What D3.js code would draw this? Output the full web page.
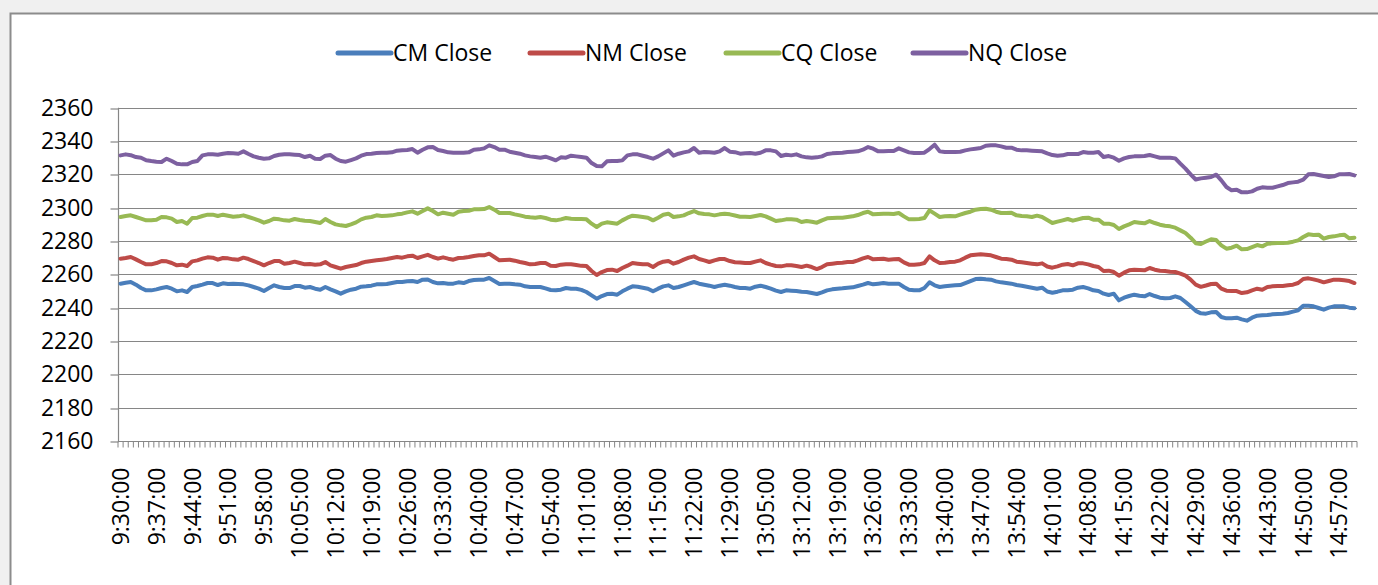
<!DOCTYPE html>
<html lang="en">
<head>
<meta charset="UTF-8">
<title>CM / NM / CQ / NQ Close</title>
<script src="https://cdn.jsdelivr.net/npm/d3@7/dist/d3.min.js"></script>
<style>
  * { margin: 0; padding: 0; }
  body { background: #f0f0f0; overflow: hidden; }
  svg { display: block; font-family: 'Open Sans', 'Liberation Sans', sans-serif; }
</style>
</head>
<body>
<svg id="chart" width="1378" height="585"></svg>
<script>
// ---------------------------------------------------------------------------
// Data (one value per minute)
// ---------------------------------------------------------------------------

// trading sessions, one category per minute
const sessions = [['9:30', '11:30'], ['13:00', '15:00']];

// labels shown on the x axis (every 7th minute)
const tickLabels = ['9:30:00','9:37:00','9:44:00','9:51:00','9:58:00','10:05:00','10:12:00','10:19:00',
  '10:26:00','10:33:00','10:40:00','10:47:00','10:54:00','11:01:00','11:08:00','11:15:00','11:22:00',
  '11:29:00','13:05:00','13:12:00','13:19:00','13:26:00','13:33:00','13:40:00','13:47:00','13:54:00',
  '14:01:00','14:08:00','14:15:00','14:22:00','14:29:00','14:36:00','14:43:00','14:50:00','14:57:00'];

const yTicks = [2160, 2180, 2200, 2220, 2240, 2260, 2280, 2300, 2320, 2340, 2360];

const cmClose = [
  2254.4, 2255, 2255.4, 2253.8, 2251.8, 2250.4, 2250.4, 2251, 2251.8, 2252.4, 2251.4, 2249.8, 2250.4, 2249.4, 2252.4, 2253, 2253.8, 2254.8, 2254.8, 2253.6, 2254.6, 2254.2, 2254.4, 2254.2, 2254, 2253.4, 2252.4, 2251.4, 2250, 2251.8, 2253.4,
  2252.4, 2251.8, 2251.8, 2253, 2253, 2252, 2252.4, 2251.4, 2250.8, 2252.4, 2251, 2249.8, 2248.4, 2249.8, 2250.8, 2251.4, 2252.6, 2252.8, 2253.2, 2254, 2254, 2254.2, 2254.8, 2255.4, 2255.4, 2255.8, 2256, 2255.4, 2256.8, 2256.9,
  2255.4, 2254.6, 2254.8, 2254.4, 2254.4, 2255.2, 2254.8, 2256, 2256.6, 2256.8, 2256.8, 2257.8, 2256, 2254.2, 2254.4, 2254.4, 2254, 2253.8, 2252.8, 2252.4, 2252.4, 2252.4, 2251.6, 2250.6, 2250.4, 2250.8, 2251.8, 2251.4, 2251.4, 2250.7,
  2249.4, 2247.4, 2245.4, 2247, 2248.2, 2248.4, 2247.8, 2249.8, 2251.4, 2252.8, 2252.6, 2252, 2251.4, 2249.8, 2251.4, 2252.8, 2253.4, 2251.8, 2252.4, 2253.4, 2254.4, 2255.4, 2254.4, 2253.8, 2253.2, 2252.4, 2253.2, 2253.8, 2253.2, 2252.4, 2251.8,
  2251.8, 2251.4, 2252.6, 2253.2, 2252.4, 2251.4, 2250.2, 2249.4, 2250.4, 2250.2, 2250, 2249.6, 2249.4, 2248.8, 2248.2, 2249.2, 2250.4, 2251, 2251.4, 2251.6, 2252, 2252.2, 2253, 2253.8, 2254.8, 2254, 2254.4, 2254.8, 2254.4, 2254.4,
  2254.4, 2252.4, 2250.8, 2250.4, 2250.4, 2251.8, 2255.2, 2253.4, 2252.4, 2252.8, 2253.2, 2253.4, 2253.6, 2254.8, 2256, 2257.2, 2257.4, 2257, 2256.8, 2255.8, 2255.2, 2254.8, 2254.4, 2253.6, 2253.2, 2252.6, 2252, 2251.4, 2252, 2249.7,
  2249, 2249.6, 2250.4, 2250.4, 2250.8, 2252, 2252.4, 2251.6, 2250.4, 2250, 2248.4, 2247.6, 2248.4, 2244.4, 2246, 2247, 2247.8, 2247.2, 2246.8, 2248.2, 2247, 2246, 2245.6, 2245.8, 2246.8, 2245.8, 2243.4, 2240.8, 2238.1, 2236.6, 2236.4,
  2237.2, 2237.4, 2234.4, 2233.6, 2233.6, 2234, 2233, 2232.2, 2234, 2235.2, 2235.4, 2235.6, 2236, 2236.2, 2236.4, 2236.8, 2237.6, 2238.4, 2241.2, 2241.2, 2240.8, 2239.8, 2238.8, 2240, 2240.8, 2240.8, 2240.8, 2240, 2239.6
];

const nmClose = [
  2269.4, 2269.8, 2270.4, 2269, 2267.4, 2266, 2266, 2266.8, 2268, 2267.8, 2266.8, 2265.4, 2265.8, 2265, 2267.8, 2268.4, 2269.4, 2270.2, 2270, 2268.8, 2269.8, 2269.6, 2269, 2268.8, 2270, 2269.2, 2268, 2266.8, 2265.4, 2266.8, 2268,
  2268, 2266.4, 2266.8, 2267.6, 2266.8, 2266, 2266.2, 2265.8, 2266, 2267.4, 2265.4, 2264.4, 2263.4, 2264.4, 2265, 2265.6, 2266.8, 2267.6, 2268, 2268.4, 2268.8, 2269.2, 2269.8, 2270.4, 2270, 2270.8, 2271.2, 2269.8, 2270.8, 2271.7,
  2270.4, 2269.4, 2270.2, 2269.4, 2268.8, 2269.8, 2270, 2270.4, 2271, 2271.4, 2271.4, 2272.4, 2270.4, 2268.4, 2268.6, 2268.8, 2268.2, 2267.4, 2266.8, 2266, 2266.2, 2266.8, 2266.8, 2265.2, 2265, 2265.8, 2266, 2266, 2265.6, 2265.1,
  2265, 2262, 2259.6, 2261.4, 2262.6, 2262.8, 2262, 2263.8, 2265.2, 2266.8, 2266.4, 2266, 2266, 2264.4, 2266.4, 2267.6, 2268, 2266.4, 2267.4, 2268.8, 2270, 2270.8, 2269.2, 2268.4, 2267.4, 2268.4, 2269.2, 2269.2, 2268, 2267.3, 2267.1,
  2266.8, 2266.8, 2267.6, 2268.4, 2266.8, 2265.8, 2265, 2264.8, 2265.4, 2265.4, 2265, 2264.4, 2265.2, 2264.4, 2263.2, 2264.4, 2266, 2266.4, 2266.8, 2267, 2267.4, 2267.4, 2268.4, 2269.6, 2270.4, 2269, 2269.2, 2269.4, 2268.8, 2269,
  2269.2, 2267.2, 2265.8, 2265.8, 2266, 2266.8, 2270.8, 2268.4, 2266.8, 2267, 2267.4, 2267.6, 2268.4, 2270, 2271.4, 2271.8, 2272, 2271.8, 2271.4, 2270.4, 2269.4, 2269.2, 2268.8, 2267.6, 2267.2, 2266.8, 2266.4, 2266, 2266.6, 2264.7,
  2264, 2264.8, 2265.8, 2266.2, 2265.4, 2266.6, 2266.6, 2266, 2265, 2264.4, 2262, 2262.2, 2261.4, 2259.2, 2261, 2262.4, 2262.8, 2262.6, 2262.4, 2263.8, 2262.8, 2262.2, 2262, 2261.6, 2261.4, 2260.4, 2259.2, 2256.8, 2253.8, 2252.5, 2253.3,
  2254.2, 2254.4, 2251.4, 2250.2, 2250, 2250, 2248.8, 2249.2, 2250.4, 2251.4, 2250.8, 2252.4, 2252.8, 2253, 2253, 2253.4, 2253.8, 2254.8, 2257.2, 2257.6, 2257, 2256.2, 2255.2, 2256, 2256.8, 2256.8, 2256.4, 2256, 2254.8
];

const cqClose = [
  2294.4, 2295, 2295.4, 2294.4, 2293.4, 2292.4, 2292.4, 2292.8, 2294.4, 2294.2, 2293.4, 2291.4, 2292, 2290.4, 2293.8, 2294, 2295, 2295.8, 2295.8, 2295, 2295.8, 2295.2, 2294.6, 2294.8, 2295.4, 2294.4, 2293.4, 2292.4, 2291, 2292, 2293.4,
  2293, 2292.4, 2292.2, 2293.2, 2292.6, 2292.2, 2292, 2291.4, 2290.8, 2293.2, 2291.4, 2290, 2289.4, 2289, 2290, 2291.2, 2293, 2294, 2294.4, 2295.4, 2295, 2295.2, 2295.4, 2296, 2296.4, 2297.2, 2297.8, 2296.4, 2298, 2299.6,
  2298, 2296, 2297, 2296.4, 2295.8, 2297.6, 2298, 2298.2, 2299, 2299, 2299.2, 2300.4, 2298.8, 2296.8, 2296.8, 2296.8, 2296, 2295.4, 2294.6, 2294.2, 2294, 2294.4, 2293.8, 2292.8, 2292.4, 2293, 2293.8, 2293.4, 2293.2, 2293.2,
  2293, 2290.4, 2288.4, 2290.4, 2291.2, 2290.8, 2290.4, 2292.4, 2294, 2295.2, 2294.8, 2294.4, 2294, 2292.4, 2294, 2295.8, 2296.4, 2294.4, 2294.8, 2295.4, 2296.8, 2298, 2296.6, 2296.2, 2296, 2295.4, 2296, 2296.4, 2296, 2295.3, 2294.6,
  2294.6, 2294.4, 2295, 2295.6, 2294.8, 2293.4, 2292, 2292.4, 2293, 2293, 2292.8, 2291.4, 2292, 2291.6, 2291, 2292.4, 2293.6, 2293.8, 2294, 2294, 2294.4, 2294.8, 2295.6, 2296.8, 2297.6, 2296, 2296.2, 2296.4, 2296.4, 2296.2,
  2296.8, 2294.8, 2293, 2293, 2293.2, 2293.8, 2298.4, 2296.4, 2294.4, 2294.8, 2295, 2294.8, 2295.8, 2296.8, 2297.6, 2298.8, 2299.2, 2299.4, 2298.8, 2297.6, 2296.8, 2296.8, 2297, 2295.4, 2295, 2294.8, 2294.4, 2295.2, 2294.4, 2292.6,
  2290.8, 2291.6, 2292.4, 2293.2, 2292.2, 2293, 2293.8, 2294, 2292.8, 2292.8, 2290.4, 2290.4, 2289.6, 2287.2, 2288.8, 2290, 2291.4, 2291, 2290.6, 2292, 2290.8, 2289.8, 2289.2, 2288.8, 2288, 2286.4, 2284.8, 2282, 2278.7, 2278.2, 2279.7,
  2281, 2280.6, 2277.4, 2275.4, 2276, 2277.2, 2275, 2275.2, 2276.4, 2277.6, 2276.8, 2278.4, 2278.6, 2278.8, 2278.8, 2279, 2279.6, 2280.4, 2282.4, 2284, 2283.6, 2283.8, 2281.4, 2282.4, 2282.8, 2283.4, 2283.8, 2281.6, 2282
];

const nqClose = [
  2331.4, 2332, 2331.5, 2330.4, 2330, 2328.5, 2328, 2327.6, 2327.4, 2329.4, 2328, 2326.4, 2326, 2326, 2327.4, 2328, 2331.4, 2332, 2332, 2331.8, 2332.4, 2332.8, 2332.6, 2332.4, 2333.8, 2332.2, 2330.8, 2330, 2329.4, 2329.6, 2331,
  2331.8, 2332, 2332, 2331.8, 2331.6, 2330.4, 2331.2, 2329.4, 2329.2, 2331.2, 2331.6, 2329.4, 2328, 2327.6, 2328.6, 2329.6, 2331.2, 2332.2, 2332.4, 2332.8, 2333, 2333, 2333.2, 2334.2, 2334.4, 2334.6, 2335.2, 2333, 2334.8, 2336.2,
  2336.4, 2334.6, 2334, 2333.2, 2333, 2333, 2333, 2333.2, 2334.8, 2335, 2335.6, 2337.4, 2336.4, 2334.8, 2334.8, 2333.6, 2333, 2332.4, 2331.4, 2330.8, 2330.4, 2330, 2330.6, 2329.6, 2328.4, 2330.2, 2330, 2331.2, 2330.8, 2330.4,
  2330, 2326.8, 2325, 2324.8, 2327.8, 2328, 2328, 2328.4, 2331.4, 2332, 2332, 2331.2, 2330.4, 2329.4, 2330.8, 2332.6, 2334.4, 2331.2, 2332.4, 2333.2, 2333.8, 2335.8, 2333, 2333.4, 2333.2, 2333, 2333.8, 2335.8, 2333.6, 2333.3, 2332.4,
  2332.6, 2332.8, 2332.4, 2333, 2334.4, 2334.4, 2333.8, 2331, 2331.8, 2331.4, 2332, 2330.8, 2330.2, 2330, 2330.2, 2330.8, 2332.2, 2332.6, 2332.8, 2333, 2333.4, 2333.6, 2333.8, 2334.8, 2336.4, 2335.4, 2333.8, 2333.8, 2334, 2334,
  2335.6, 2334.4, 2333.2, 2332.8, 2332.8, 2333, 2335.2, 2337.8, 2333.8, 2333.4, 2333.4, 2333.4, 2333.6, 2334.4, 2335, 2335.4, 2335.8, 2337.2, 2337.4, 2337.4, 2336.8, 2336, 2336, 2334.8, 2334.4, 2334.4, 2334.2, 2334, 2333.8, 2332.6,
  2331.6, 2331.2, 2331.4, 2332.2, 2332.2, 2332.2, 2333.4, 2333, 2333, 2333.4, 2330.4, 2331, 2330, 2328.2, 2329.6, 2330.4, 2330.8, 2330.8, 2331, 2331.6, 2330.8, 2330, 2330, 2330, 2329.6, 2326.4, 2323.4, 2320, 2316.9, 2317.6, 2318,
  2318.4, 2319.8, 2316.4, 2312.4, 2310.4, 2310.8, 2309.2, 2309.2, 2309.8, 2311.4, 2312.2, 2312, 2312, 2312.8, 2313.6, 2314.8, 2315.2, 2315.6, 2316.8, 2320, 2320.2, 2319.6, 2319, 2318.4, 2318.8, 2320, 2320, 2320.2, 2319.4
];

const seriesNames = ['CM Close', 'NM Close', 'CQ Close', 'NQ Close'];
const seriesColors = ['#4a7ebb', '#be4b48', '#98b954', '#7d60a0'];
const seriesValues = [cmClose, nmClose, cqClose, nqClose];

// ---------------------------------------------------------------------------
// Categories: one per minute in each session
// ---------------------------------------------------------------------------
function toMinutes(s) { const [h, m] = s.split(':').map(Number); return h * 60 + m; }
const categories = [];
sessions.forEach(([a, b]) => {
  for (let t = toMinutes(a); t <= toMinutes(b); t++) {
    categories.push(Math.floor(t / 60) + ':' + String(t % 60).padStart(2, '0') + ':00');
  }
});

// ---------------------------------------------------------------------------
// Layout
// ---------------------------------------------------------------------------
const W = 1378, H = 585;
const plot = { left: 118, right: 1357, top: 107.7, bottom: 441 };
const gridColor = '#868686';

const svg = d3.select('#chart');

// chart area frame
svg.append('rect')
  .attr('x', 0).attr('y', 0).attr('width', W).attr('height', H)
  .attr('fill', '#f0f0f0');
svg.append('rect')
  .attr('x', 10.5).attr('y', 13.5).attr('width', W + 20).attr('height', H + 20)
  .attr('fill', '#ffffff').attr('stroke', '#8c8c8c').attr('stroke-width', 2);

const x = d3.scaleBand().domain(categories).range([plot.left, plot.right]).paddingInner(0).paddingOuter(0);
const y = d3.scaleLinear().domain([2160, 2360]).range([plot.bottom, plot.top]);
const cx = (c) => x(c) + x.bandwidth() / 2;

// horizontal gridlines
svg.append('g')
  .selectAll('line')
  .data(yTicks.filter(v => v > 2160))
  .join('line')
  .attr('x1', plot.left).attr('x2', plot.right)
  .attr('y1', d => Math.round(y(d)) + 0.5).attr('y2', d => Math.round(y(d)) + 0.5)
  .attr('stroke', gridColor).attr('stroke-width', 1.2);

// y axis
const yAxis = d3.axisLeft(y).tickValues(yTicks).tickSize(8).tickPadding(17).tickFormat(d3.format('d'));
const yAxisG = svg.append('g')
  .attr('transform', `translate(${plot.left + 0.5},0)`)
  .call(yAxis);
yAxisG.select('.domain').remove();
yAxisG.selectAll('.tick line').attr('stroke', gridColor).attr('stroke-width', 1.2)
  .attr('transform', function () { return 'translate(0,' + (Math.round(y(d3.select(this.parentNode).datum())) + 0.5 - y(d3.select(this.parentNode).datum())) + ')'; });
yAxisG.selectAll('.tick text').attr('font-size', 23).attr('fill', '#000').attr('font-family', "'Open Sans', sans-serif");
svg.append('line')
  .attr('x1', plot.left + 0.5).attr('x2', plot.left + 0.5)
  .attr('y1', plot.top).attr('y2', plot.bottom)
  .attr('stroke', gridColor).attr('stroke-width', 1.2);

// x axis: a tick at every category boundary, labels every 7th category
const xAxisG = svg.append('g').attr('transform', `translate(0,${Math.round(plot.bottom) + 0.5})`);
xAxisG.append('line')
  .attr('x1', plot.left).attr('x2', plot.right)
  .attr('stroke', gridColor).attr('stroke-width', 1.2);
xAxisG.append('g')
  .selectAll('line')
  .data(categories.concat([null]))
  .join('line')
  .attr('x1', (d, i) => plot.left + i * x.bandwidth())
  .attr('x2', (d, i) => plot.left + i * x.bandwidth())
  .attr('y1', 0).attr('y2', 6)
  .attr('stroke', gridColor).attr('stroke-width', 1);
xAxisG.append('g')
  .selectAll('text')
  .data(tickLabels)
  .join('text')
  .attr('transform', d => `translate(${cx(d)},26) rotate(-90)`)
  .attr('text-anchor', 'end')
  .attr('dy', '0.36em')
  .attr('font-size', 23)
  .attr('fill', '#000')
  .text(d => d);

// series lines
const line = d3.line()
  .x((d, i) => cx(categories[i]))
  .y(d => y(d));

svg.append('g')
  .selectAll('path')
  .data(seriesValues)
  .join('path')
  .attr('d', line)
  .attr('fill', 'none')
  .attr('stroke', (d, i) => seriesColors[i])
  .attr('stroke-width', 4)
  .attr('stroke-linejoin', 'round')
  .attr('stroke-linecap', 'round');

// legend
const legendX = [338, 530, 726, 913];
const legend = svg.append('g')
  .selectAll('g')
  .data(seriesNames)
  .join('g')
  .attr('transform', (d, i) => `translate(${legendX[i]},53)`);
legend.append('line')
  .attr('x1', 0).attr('x2', 53)
  .attr('stroke', (d, i) => seriesColors[i])
  .attr('stroke-width', 5)
  .attr('stroke-linecap', 'round');
legend.append('text')
  .attr('x', 55)
  .attr('dy', '0.36em')
  .attr('font-size', 23)
  .attr('fill', '#000')
  .text(d => d);
</script>
</body>
</html>
